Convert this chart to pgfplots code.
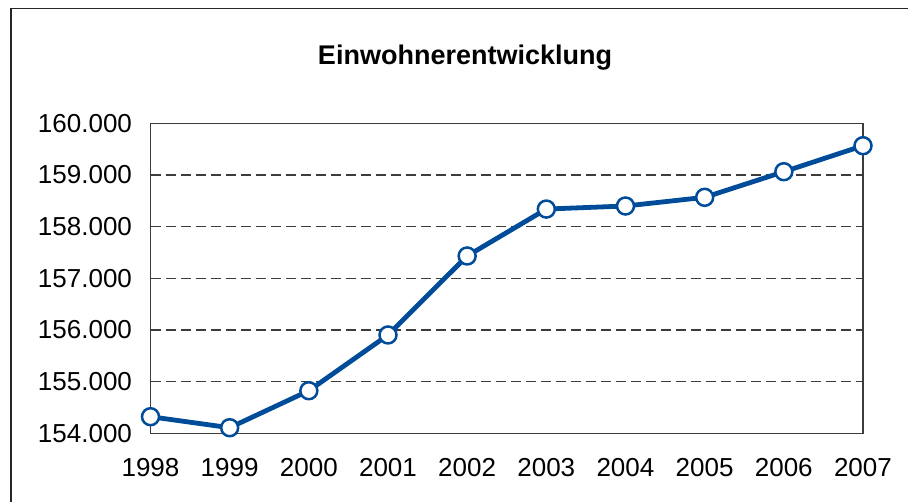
\documentclass[border=0pt]{standalone}
\usepackage{fontspec}
\setmainfont{Liberation Sans}
\usepackage{pgfplots}
\pgfplotsset{compat=1.18}
\definecolor{lineblue}{RGB}{0,76,153}
\definecolor{gridgray}{RGB}{60,60,60}
\begin{document}
\begin{tikzpicture}[x=1pt,y=1pt]
\path[use as bounding box] (0,0) rectangle (908,502);
\begin{axis}[
  at={(150.5pt,68.7pt)}, anchor=south west,
  scale only axis, width=712.5pt, height=310pt,
  xmin=1998, xmax=2007, ymin=154000, ymax=160000,
  xtick={1998,...,2007}, ytick={154000,155000,...,160000},
  scaled y ticks=false,
  xticklabel style={/pgf/number format/1000 sep={}, yshift=-22pt},
  yticklabel style={/pgf/number format/fixed, /pgf/number format/1000 sep={.}, xshift=-15pt},
  /pgf/number format/assume math mode=true,
  tick label style={font=\fontsize{26}{30}\selectfont, black},
  major tick length=0pt,
  axis line style={gridgray, line width=1.2pt},
  ymajorgrids, grid style={gridgray, dash pattern=on 10pt off 5pt, line width=1.2pt},
  clip=false,
]
\addplot[lineblue, line width=4.8pt, mark=*, mark size=8.5pt,
  mark options={fill=white, draw=lineblue, line width=2.5pt, solid}]
  coordinates {
  (1998,154321) (1999,154108) (2000,154824) (2001,155903) (2002,157432)
  (2003,158340) (2004,158399) (2005,158567) (2006,159063) (2007,159566)};
\end{axis}
\node[font=\fontsize{27}{31}\selectfont\bfseries] at (465,444) {Einwohnerentwicklung};
\draw[line width=1.5pt, black!85] (11,0) -- (11,493.5) -- (908,493.5);
\end{tikzpicture}
\end{document}
